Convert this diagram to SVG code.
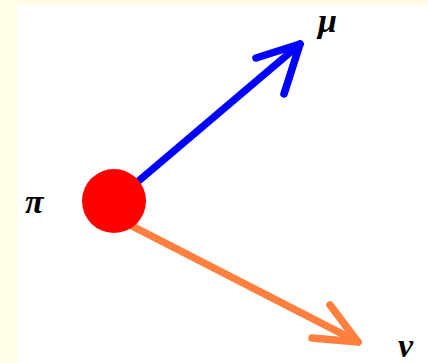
<svg xmlns="http://www.w3.org/2000/svg" width="428" height="363" viewBox="0 0 428 363">
<style>
.lbl{font-family:"Liberation Serif","DejaVu Serif",serif;font-style:italic;font-weight:bold;font-size:34px;fill:#000}
.ln{fill:none;stroke-width:7.5;stroke-linecap:round;stroke-linejoin:round}
</style>
<rect x="0" y="0" width="428" height="363" fill="#FFFDE8"/>
<rect x="17" y="5" width="411" height="358" fill="#FFFFFF"/>
<g id="connectors">
<g id="mu-arrow" stroke="#0000FF" class="ln">
<line x1="135" y1="184" x2="300" y2="44"/>
<polyline points="256,58 300,44 284,94"/>
</g>
<g id="nu-arrow" stroke="#FF7F3F" class="ln">
<line x1="132" y1="226" x2="358" y2="342"/>
<polyline points="330,305 358,342 312,338"/>
</g>
</g>
<g id="pion"><circle cx="114" cy="201" r="32" fill="#FF0000"/></g>
<g id="label-pi"><text class="lbl" x="25" y="213">π</text></g>
<g id="label-mu"><text class="lbl" x="318" y="32">μ</text></g>
<g id="label-nu"><text class="lbl" x="398" y="357">ν</text></g>
</svg>
